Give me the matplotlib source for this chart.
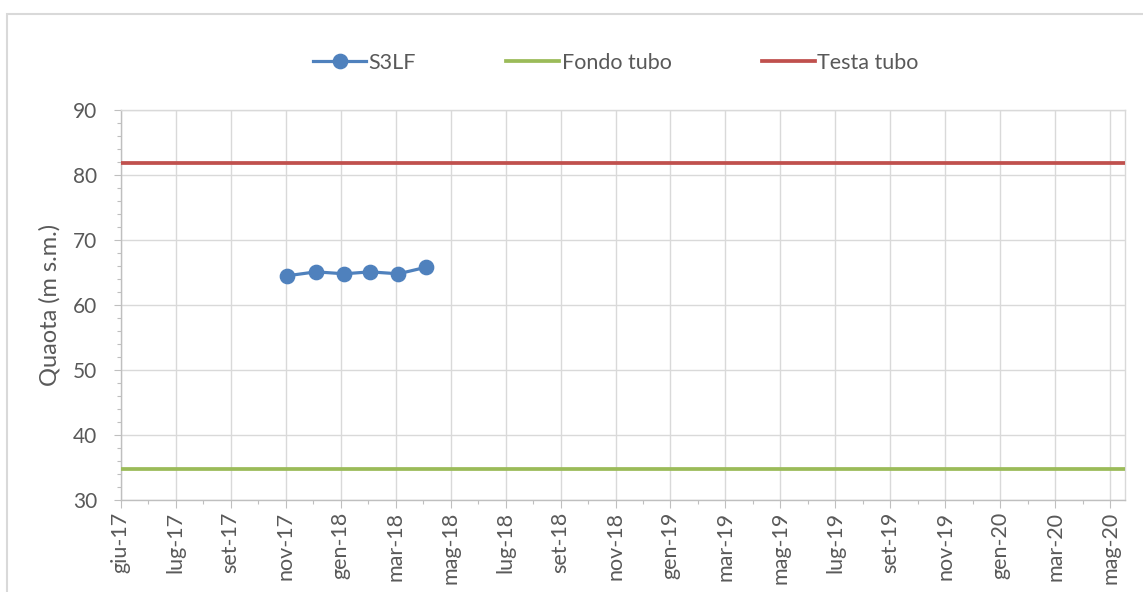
import numpy as np
import pandas as pd
import matplotlib
matplotlib.use("Agg")
import matplotlib.pyplot as plt
import matplotlib.dates as mdates
from matplotlib.patches import Rectangle
from matplotlib.ticker import FixedLocator, MultipleLocator

plt.rcParams['font.family'] = ['Lato', 'DejaVu Sans']

# data
s3lf_dates = ['2017-11-30', '2017-12-31', '2018-01-31', '2018-02-28', '2018-03-31', '2018-04-30']
s3lf_vals = [64.5, 65.1, 64.8, 65.1, 64.8, 65.8]
fondo_tubo = 34.7
testa_tubo = 81.8

x_start = '2017-06-01'
x_end = '2020-06-01'
tick_step_days = 60
tick_labels = ['giu-17', 'lug-17', 'set-17', 'nov-17', 'gen-18', 'mar-18', 'mag-18',
               'lug-18', 'set-18', 'nov-18', 'gen-19', 'mar-19', 'mag-19', 'lug-19',
               'set-19', 'nov-19', 'gen-20', 'mar-20', 'mag-20']

BLUE = '#4F81BD'
GREEN = '#9BBB59'
RED = '#C0504D'
GRID = '#d9d9d9'
TXT = '#595959'

W, H = 1143, 592
fig = plt.figure(figsize=(W / 100, H / 100), dpi=100)
ax = fig.add_axes([120.7 / W, 1 - 500 / H, 1004.3 / W, 390 / H])

t0 = pd.Timestamp(x_start)
t1 = pd.Timestamp(x_end)
xd = pd.to_datetime(s3lf_dates)

ax.plot([t0, t1], [fondo_tubo, fondo_tubo], color=GREEN, lw=2.7, label='Fondo tubo', zorder=3)
ax.plot([t0, t1], [testa_tubo, testa_tubo], color=RED, lw=2.7, label='Testa tubo', zorder=3)
ax.plot(xd, s3lf_vals, color=BLUE, lw=2.3, marker='o', ms=10.3, label='S3LF', zorder=4)

ax.set_xlim(t0, t1)
ax.set_ylim(30, 90)

major = [mdates.date2num(t0 + pd.Timedelta(days=tick_step_days * k)) for k in range(len(tick_labels))]
minor = [m + tick_step_days / 2 for m in major]
ax.xaxis.set_major_locator(FixedLocator(major))
ax.xaxis.set_minor_locator(FixedLocator(minor))
ax.set_xticklabels(tick_labels, rotation=90, color=TXT, fontsize=15.5)

ax.yaxis.set_major_locator(MultipleLocator(10))
ax.yaxis.set_minor_locator(MultipleLocator(2))
for lab in ax.get_yticklabels():
    lab.set_color(TXT)
    lab.set_fontsize(15)

ax.grid(True, which='major', color=GRID, lw=1.0, zorder=0)
ax.set_axisbelow(True)

for s in ['left', 'bottom']:
    ax.spines[s].set_color('#bfbfbf')
for s in ['top', 'right']:
    ax.spines[s].set_color(GRID)
for s in ax.spines.values():
    s.set_linewidth(1.0)

ax.tick_params(axis='y', which='major', direction='out', length=5, width=0.8, color='#bfbfbf', pad=12)
ax.tick_params(axis='y', which='minor', direction='out', length=3.2, width=0.8, color='#bfbfbf')
ax.tick_params(axis='x', which='major', direction='out', length=5.5, width=0.8, color='#bfbfbf', pad=3)
ax.tick_params(axis='x', which='minor', direction='out', length=3.2, width=0.8, color='#bfbfbf')

ax.set_ylabel('Quaota (m s.m.)', color=TXT, fontsize=17)
ax.yaxis.set_label_coords((60 - 120.7) / 1004.3, 0.5)

handles, labels = ax.get_legend_handles_labels()
order = [2, 0, 1]
leg = fig.legend([handles[i] for i in order], [labels[i] for i in order],
                 loc='center', bbox_to_anchor=(616 / W, 1 - 63 / H), ncol=3,
                 frameon=False, fontsize=15.5, handlelength=2.45, handletextpad=0.12,
                 columnspacing=4.2, markerscale=1.0)
for t in leg.get_texts():
    t.set_color(TXT)

# chart area border
fig.add_artist(Rectangle((7 / W, -0.1), 1.2, 1.1 - 14 / H, transform=fig.transFigure,
                         fill=False, ec=GRID, lw=1.5))

fig.savefig('out.png', dpi=100)
